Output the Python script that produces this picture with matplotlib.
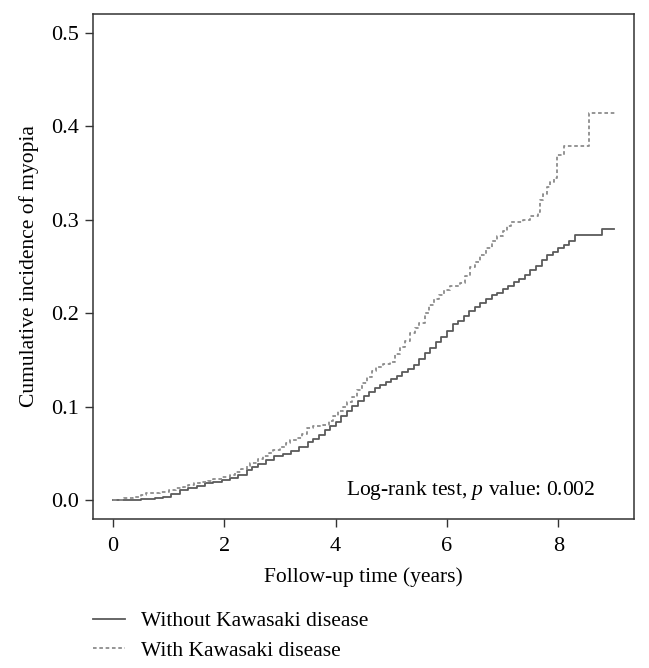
import matplotlib
matplotlib.use("Agg")
import matplotlib.pyplot as plt

# follow-up time (years) and cumulative incidence
t_without = [0, 0.25, 0.5, 0.75, 0.9, 1.05, 1.2, 1.35, 1.5, 1.65, 1.8, 1.95, 2.1, 2.25,
             2.4, 2.5, 2.6, 2.75, 2.9, 3.05, 3.2, 3.35, 3.5, 3.6, 3.7, 3.8, 3.9, 4.0,
             4.1, 4.2, 4.3, 4.4, 4.5, 4.6, 4.7, 4.8, 4.9, 5.0, 5.1, 5.2, 5.3, 5.4, 5.5,
             5.6, 5.7, 5.8, 5.9, 6.0, 6.1, 6.2, 6.3, 6.4, 6.5, 6.6, 6.7, 6.8, 6.9, 7.0,
             7.1, 7.2, 7.3, 7.4, 7.5, 7.6, 7.7, 7.8, 7.9, 8.0, 8.1, 8.2, 8.3, 8.78, 9.0]
ci_without = [0, 0.0005, 0.001, 0.002, 0.004, 0.007, 0.011, 0.013, 0.015, 0.018, 0.02,
              0.022, 0.024, 0.027, 0.032, 0.036, 0.039, 0.043, 0.047, 0.05, 0.053,
              0.057, 0.062, 0.066, 0.07, 0.075, 0.079, 0.084, 0.09, 0.095, 0.101, 0.106,
              0.111, 0.116, 0.12, 0.123, 0.127, 0.13, 0.133, 0.137, 0.14, 0.145, 0.151,
              0.157, 0.163, 0.169, 0.175, 0.181, 0.188, 0.192, 0.197, 0.202, 0.207,
              0.211, 0.215, 0.219, 0.222, 0.226, 0.229, 0.233, 0.237, 0.241, 0.246,
              0.251, 0.257, 0.262, 0.266, 0.27, 0.273, 0.277, 0.284, 0.29, 0.29]

t_with = [0, 0.2, 0.36, 0.5, 0.6, 0.84, 1.0, 1.14, 1.25, 1.35, 1.45, 1.56, 1.7, 1.8,
          1.95, 2.1, 2.2, 2.3, 2.4, 2.46, 2.6, 2.7, 2.8, 2.88, 3.0, 3.1, 3.18, 3.3, 3.4,
          3.48, 3.6, 3.78, 3.88, 3.95, 4.05, 4.13, 4.2, 4.3, 4.38, 4.47, 4.56, 4.65,
          4.73, 4.85, 4.98, 5.07, 5.16, 5.25, 5.34, 5.42, 5.5, 5.6, 5.68, 5.77, 5.85,
          5.95, 6.05, 6.23, 6.32, 6.41, 6.5, 6.6, 6.7, 6.81, 6.9, 7.0, 7.08, 7.15, 7.36,
          7.5, 7.63, 7.67, 7.73, 7.79, 7.85, 7.92, 7.97, 8.1, 8.56, 9.04]
ci_with = [0, 0.002, 0.004, 0.006, 0.0075, 0.009, 0.011, 0.013, 0.014, 0.016, 0.018,
           0.02, 0.021, 0.023, 0.025, 0.027, 0.03, 0.033, 0.037, 0.04, 0.044, 0.047,
           0.051, 0.054, 0.057, 0.061, 0.064, 0.067, 0.071, 0.077, 0.079, 0.081, 0.085,
           0.09, 0.095, 0.1, 0.105, 0.11, 0.118, 0.125, 0.132, 0.138, 0.143, 0.146,
           0.148, 0.156, 0.164, 0.17, 0.179, 0.184, 0.19, 0.2, 0.209, 0.215, 0.22,
           0.225, 0.229, 0.232, 0.24, 0.249, 0.255, 0.262, 0.27, 0.277, 0.283, 0.288,
           0.293, 0.298, 0.30, 0.304, 0.308, 0.321, 0.328, 0.335, 0.34, 0.345, 0.369,
           0.379, 0.4145, 0.4145]

labels = ["Without Kawasaki disease", "With Kawasaki disease"]
x_ticks = [0, 2, 4, 6, 8]
y_ticks = [0.0, 0.1, 0.2, 0.3, 0.4, 0.5]

plt.rcParams["font.family"] = ["Liberation Serif", "DejaVu Serif"]
plt.rcParams["mathtext.fontset"] = "custom"
plt.rcParams["mathtext.it"] = "Liberation Serif:italic"
plt.rcParams["mathtext.rm"] = "Liberation Serif"

fig = plt.figure(figsize=(6.49, 6.68), dpi=100)
ax = fig.add_axes([93 / 649, 1 - 519 / 668, 541 / 649, 505 / 668])

l1, = ax.plot(t_without, ci_without, drawstyle="steps-post", color="#5a5a5a", lw=1.3)
l2, = ax.plot(t_with, ci_with, drawstyle="steps-post", color="#8c8c8c", lw=1.3,
              linestyle=(0, (2, 1.5)))

ax.set_xlim(-0.36, 9.36)
ax.set_ylim(-0.02, 0.52)
ax.set_xticks(x_ticks)
ax.set_yticks(y_ticks)
ax.set_yticklabels([f"{v:.1f}" for v in y_ticks])
ax.tick_params(labelsize=16, length=6, width=1, color="#333333", pad=4)
ax.tick_params(axis="x", pad=7)
for s in ax.spines.values():
    s.set_color("#333333")
    s.set_linewidth(1.1)

ax.set_xlabel("Follow-up time (years)", fontsize=15.5, labelpad=8)
ax.set_ylabel("Cumulative incidence of myopia", fontsize=15.5, labelpad=9)

ax.text(8.67, 0.011, "Log-rank test, $p$ value: 0.002", fontsize=15.5,
        ha="right", va="center")

fig.legend([l1, l2], labels, loc="upper left", bbox_to_anchor=(93 / 649, 1 - 611 / 668),
           frameon=False, fontsize=15.5, handlelength=1.5, handletextpad=0.75,
           labelspacing=0.45, borderpad=0, borderaxespad=0)

fig.savefig("out.png", dpi=100)
